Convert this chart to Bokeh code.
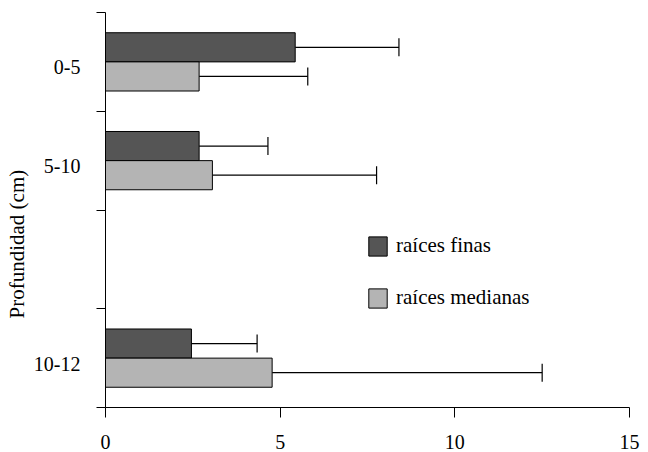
from bokeh.plotting import figure
from bokeh.models import (Range1d, FixedTicker, Whisker, TeeHead, Legend, LegendItem,
                          ColumnDataSource, Title)
from bokeh.embed import file_html
from bokeh.resources import INLINE

# ---- data ----
depths = ["0-5", "5-10", "10-12"]
depth_slots = [0.5, 1.5, 3.5]
slot_edges = [0, 1, 2, 3, 4]
finas = [5.43, 2.68, 2.46]
finas_err = [2.97, 1.97, 1.88]
medianas = [2.68, 3.06, 4.77]
medianas_err = [3.11, 4.70, 7.73]
x_ticks = [0, 5, 10, 15]
series_names = ["raíces finas", "raíces medianas"]
y_title = "Profundidad (cm)"

FONT = "Liberation Serif"
DARK = "#555555"
LIGHT = "#b4b4b4"
bar_h = 0.295
off = bar_h / 2
label_shift = 0.055

p = figure(width=648, height=452, output_backend="svg", toolbar_location=None,
           x_range=Range1d(0, 15), y_range=Range1d(4, 0),
           min_border_left=104, min_border_right=19, min_border_top=12, min_border_bottom=45)
p.outline_line_color = None
p.grid.visible = False
p.background_fill_color = "white"
p.border_fill_color = "white"

y_f = [s - off for s in depth_slots]
y_m = [s + off for s in depth_slots]

src_f = ColumnDataSource(dict(y=y_f, v=finas, up=[a + b for a, b in zip(finas, finas_err)]))
src_m = ColumnDataSource(dict(y=y_m, v=medianas, up=[a + b for a, b in zip(medianas, medianas_err)]))

r_f = p.hbar(y="y", right="v", left=0, height=bar_h, source=src_f,
             fill_color=DARK, line_color="black", line_width=1)
r_m = p.hbar(y="y", right="v", left=0, height=bar_h, source=src_m,
             fill_color=LIGHT, line_color="black", line_width=1)

for src in (src_f, src_m):
    w = Whisker(source=src, base="y", lower="v", upper="up", dimension="width",
                line_color="black", line_width=1.2,
                upper_head=TeeHead(size=18, line_color="black", line_width=1.2),
                lower_head=None)
    p.add_layout(w)

# y axis
ya = p.yaxis[0]
ya.ticker = FixedTicker(ticks=[s + label_shift for s in depth_slots], minor_ticks=slot_edges)
ya.major_label_overrides = {s + label_shift: d for s, d in zip(depth_slots, depths)}
ya.major_tick_out = 0
ya.major_tick_in = 0
ya.minor_tick_out = 9
ya.minor_tick_in = 0
ya.minor_tick_line_color = "black"
ya.axis_line_color = "black"
ya.major_label_standoff = 16
ya.major_label_text_font = FONT
ya.major_label_text_font_size = "20px"
ya.major_label_text_color = "black"

# y axis title (as a left-side title so it can sit lower, as in the original)
p.add_layout(Title(text=y_title, align="left", offset=89, standoff=4,
                   text_font=FONT, text_font_size="21px", text_font_style="normal",
                   text_color="black"), "left")

# x axis
xa = p.xaxis[0]
xa.ticker = FixedTicker(ticks=x_ticks, minor_ticks=[])
xa.major_tick_out = 10
xa.major_tick_in = 0
xa.major_tick_line_color = "black"
xa.axis_line_color = "black"
xa.major_label_standoff = 17
xa.major_label_text_font = FONT
xa.major_label_text_font_size = "20px"
xa.major_label_text_color = "black"

legend = Legend(items=[LegendItem(label=series_names[0], renderers=[r_f]),
                       LegendItem(label=series_names[1], renderers=[r_m])],
                location=(261, 97), orientation="vertical",
                border_line_color=None, background_fill_alpha=0,
                padding=0, margin=0, spacing=27,
                glyph_width=23, glyph_height=24, label_height=24, label_standoff=7,
                label_text_font=FONT, label_text_font_size="21px", label_text_color="black")
p.add_layout(legend)

open("out.html", "w").write(file_html(p, INLINE))
